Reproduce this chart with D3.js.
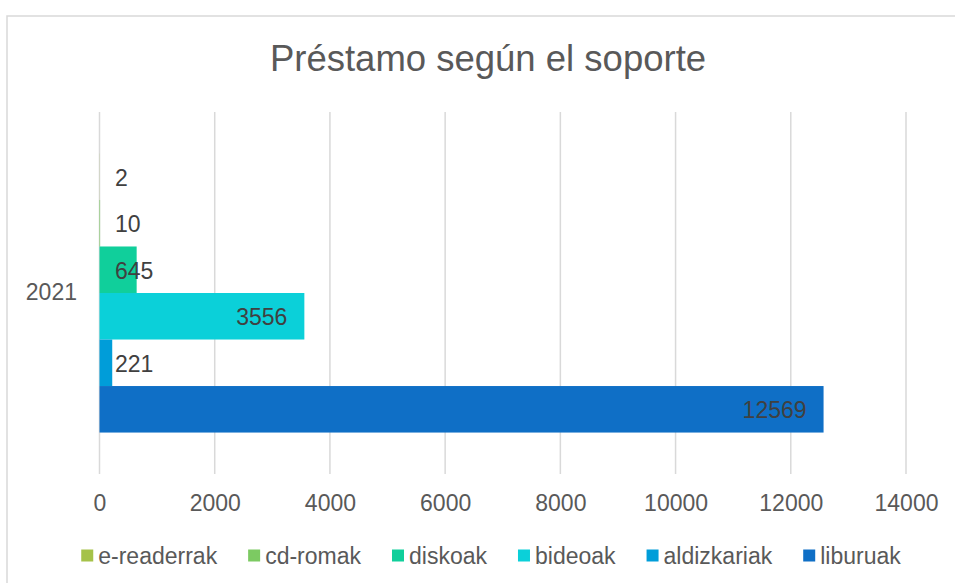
<!DOCTYPE html>
<html>
<head>
<meta charset="utf-8">
<script src="https://cdn.jsdelivr.net/npm/d3@7"></script>
<style>
  body { margin: 0; background: #fff; }
  svg { display: block; font-family: "Liberation Sans", Arial, sans-serif; }
</style>
</head>
<body>
<div id="chart"></div>
<script>
// data
const years = ["2021"];
const series = ["e-readerrak", "cd-romak", "diskoak", "bideoak", "aldizkariak", "liburuak"];
const values = [2, 10, 645, 3556, 221, 12569];
const colors = ["#A5C249", "#7CCA62", "#10CF9B", "#0BD0D9", "#009DD9", "#0F6FC6"];
const xTicks = [0, 2000, 4000, 6000, 8000, 10000, 12000, 14000];

const w = 955, h = 583;

const svg = d3.select("#chart").append("svg")
    .attr("width", w)
    .attr("height", h);

// chart frame
svg.append("rect")
    .attr("x", 7).attr("y", 16)
    .attr("width", w + 20).attr("height", h + 20)
    .attr("fill", "#fff")
    .attr("stroke", "#d9d9d9")
    .attr("stroke-width", 1.5);

// title
svg.append("text")
    .attr("x", 488).attr("y", 71)
    .attr("text-anchor", "middle")
    .attr("fill", "#595959")
    .style("font-size", "36.5px")
    .text("Préstamo según el soporte");

const x = d3.scaleLinear().domain([0, 14000]).range([99.5, 906]);
const y0 = d3.scaleBand().domain(years).range([112, 474])
    .paddingInner(0.229).paddingOuter(0.1145);
const y1 = d3.scaleBand().domain(series).range([0, y0.bandwidth()]);

// gridlines
svg.append("g")
    .selectAll("line")
    .data(xTicks)
    .join("line")
    .attr("x1", d => x(d)).attr("x2", d => x(d))
    .attr("y1", 112).attr("y2", 474)
    .attr("stroke", "#d9d9d9")
    .attr("stroke-width", 1.5);

// x axis tick labels
const xaxis = d3.axisBottom(x).tickValues(xTicks).tickSize(0).tickPadding(0)
    .tickFormat(d3.format("d"));
const gx = svg.append("g")
    .attr("transform", "translate(0,474)")
    .call(xaxis);
gx.select(".domain").remove();
gx.selectAll("text")
    .attr("y", 29)
    .attr("dy", "0.35em")
    .attr("fill", "#595959")
    .style("font-family", "'Liberation Sans', Arial, sans-serif")
    .style("font-size", "23px");

// category label
const yaxis = d3.axisLeft(y0).tickSize(0).tickPadding(0);
const gy = svg.append("g")
    .attr("transform", "translate(77,0)")
    .call(yaxis);
gy.select(".domain").remove();
gy.selectAll("text")
    .attr("fill", "#595959")
    .style("font-family", "'Liberation Sans', Arial, sans-serif")
    .style("font-size", "23px");

// bars
const rows = series.map((s, i) => ({ key: s, value: values[i], color: colors[i], year: years[0] }));

const group = svg.append("g")
    .attr("transform", `translate(0,${y0(years[0])})`);

group.selectAll("rect")
    .data(rows)
    .join("rect")
    .attr("x", x(0))
    .attr("y", d => y1(d.key))
    .attr("width", d => x(d.value) - x(0))
    .attr("height", y1.bandwidth())
    .attr("fill", d => d.color);

// data labels (inside end, pushed out past the base for short bars)
group.selectAll("text.lbl")
    .data(rows)
    .join("text")
    .attr("class", "lbl")
    .attr("y", d => y1(d.key) + y1.bandwidth() / 2 + 1)
    .attr("dy", "0.35em")
    .attr("fill", "#404040")
    .style("font-size", "23px")
    .text(d => d.value)
    .attr("x", function (d) {
        const tw = this.getComputedTextLength();
        return Math.max(x(d.value) - 17 - tw, x(0) + 15.5);
    });

// legend
const legend = svg.append("g");
const gap = 31;
let lx = 0;
series.forEach((s, i) => {
    const it = legend.append("g").attr("transform", `translate(${lx},0)`);
    it.append("rect")
        .attr("x", 0).attr("y", -6.5)
        .attr("width", 12).attr("height", 12)
        .attr("fill", colors[i]);
    const t = it.append("text")
        .attr("x", 17).attr("y", 0)
        .attr("dy", "0.35em")
        .attr("fill", "#595959")
        .style("font-size", "23px")
        .text(s);
    lx += 17 + t.node().getComputedTextLength() + gap;
});
const lw = lx - gap;
legend.attr("transform", `translate(${491 - lw / 2},556)`);
</script>
</body>
</html>
